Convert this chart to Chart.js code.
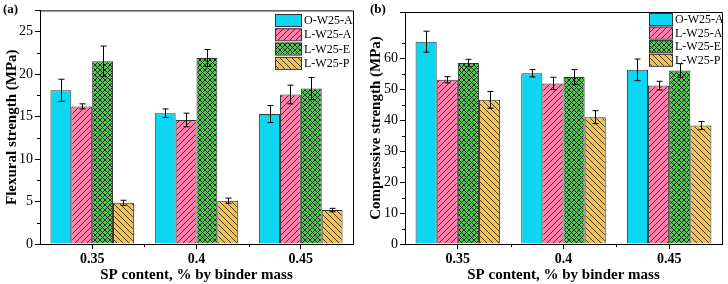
<!DOCTYPE html>
<html lang="en">
<head>
    <meta charset="UTF-8">
    <title>Flexural and compressive strength</title>
    <style>
        body { margin: 0; background: #fff; }
        #wrap { position: relative; width: 728px; height: 284px; }
        canvas { position: absolute; top: 0; }
        #chartA { left: 0; }
        #chartB { left: 364px; }
    </style>
    <script src="https://cdn.jsdelivr.net/npm/chart.js"></script>
</head>
<body>
    <div id="wrap">
        <canvas id="chartA" width="364" height="284"></canvas>
        <canvas id="chartB" width="364" height="284"></canvas>
    </div>
    <script>
        // data
        const categories = ['0.35', '0.4', '0.45'];
        const seriesNames = ['O-W25-A', 'L-W25-A', 'L-W25-E', 'L-W25-P'];

        const flexural = [
            [18.1, 15.4, 15.3],
            [16.2, 14.6, 17.6],
            [21.5, 21.9, 18.3],
            [4.85, 5.1, 4.0]
        ];
        const flexuralErr = [
            [1.3, 0.5, 1.0],
            [0.3, 0.8, 1.1],
            [1.8, 1.0, 1.3],
            [0.3, 0.3, 0.2]
        ];
        const compressive = [
            [65.4, 55.2, 56.3],
            [53.1, 51.9, 51.2],
            [58.5, 54.0, 56.1],
            [46.6, 41.0, 38.3]
        ];
        const compressiveErr = [
            [3.4, 1.2, 3.5],
            [1.0, 2.0, 1.4],
            [1.2, 2.4, 2.2],
            [2.7, 2.1, 1.3]
        ];

        const serif = "'Liberation Serif', 'Times New Roman', serif";

        // fill patterns for each series
        function makePattern(bg, kind) {
            const size = kind === 'cross' ? 5 : 6;
            const c = document.createElement('canvas');
            c.width = c.height = size;
            const g = c.getContext('2d');
            g.fillStyle = bg;
            g.fillRect(0, 0, size, size);
            g.strokeStyle = '#1a1a1a';
            g.lineWidth = kind === 'cross' ? 0.9 : 0.8;
            const fwd = () => {
                for (let k = -size; k <= size; k += size) {
                    g.beginPath(); g.moveTo(k, size); g.lineTo(k + size, 0); g.stroke();
                }
            };
            const back = () => {
                for (let k = -size; k <= size; k += size) {
                    g.beginPath(); g.moveTo(k, 0); g.lineTo(k + size, size); g.stroke();
                }
            };
            if (kind === 'fwd') fwd();
            if (kind === 'back') back();
            if (kind === 'cross') { fwd(); back(); }
            return g.createPattern(c, 'repeat');
        }

        const fills = [
            '#0DD6F0',
            makePattern('#FF80AA', 'fwd'),
            makePattern('#52C852', 'cross'),
            makePattern('#F5C150', 'back')
        ];

        // error bars, minor ticks, frame and legend
        const extras = {
            id: 'extras',
            afterDatasetsDraw(chart, args, opts) {
                const ctx = chart.ctx;
                const y = chart.scales.y;
                const x = chart.scales.x;
                const a = chart.chartArea;
                ctx.save();
                ctx.strokeStyle = '#000';
                ctx.lineWidth = 1;
                // error bars
                chart.data.datasets.forEach((ds, i) => {
                    const meta = chart.getDatasetMeta(i);
                    meta.data.forEach((el, j) => {
                        const v = ds.data[j], e = ds.err[j];
                        const px = Math.round(el.x) + 0.5;
                        const t = y.getPixelForValue(v + e);
                        const b = y.getPixelForValue(v - e);
                        ctx.beginPath();
                        ctx.moveTo(px, t); ctx.lineTo(px, b);
                        ctx.moveTo(px - 3, t); ctx.lineTo(px + 3, t);
                        ctx.moveTo(px - 3, b); ctx.lineTo(px + 3, b);
                        ctx.stroke();
                    });
                });
                // frame on top and right
                ctx.beginPath();
                ctx.moveTo(a.left, a.top + 0.5); ctx.lineTo(a.right + 0.5, a.top + 0.5);
                ctx.lineTo(a.right + 0.5, a.bottom);
                ctx.stroke();
                // minor y ticks
                for (let v = opts.minor; v < y.max; v += opts.minor * 2) {
                    const py = Math.round(y.getPixelForValue(v)) + 0.5;
                    ctx.beginPath(); ctx.moveTo(a.left - 3, py); ctx.lineTo(a.left, py); ctx.stroke();
                }
                // minor x ticks between groups
                for (let k = 1; k < categories.length; k++) {
                    const px = Math.round((x.getPixelForValue(k - 1) + x.getPixelForValue(k)) / 2) + 0.5;
                    ctx.beginPath(); ctx.moveTo(px, a.bottom); ctx.lineTo(px, a.bottom + 3); ctx.stroke();
                }
                // legend inside the plot
                ctx.font = '12px ' + serif;
                ctx.textBaseline = 'middle';
                ctx.fillStyle = '#000';
                chart.data.datasets.forEach((ds, i) => {
                    const lx = opts.legendX, ly = opts.legendY + i * opts.legendRow;
                    ctx.fillStyle = ds.backgroundColor;
                    ctx.fillRect(lx, ly, opts.swatchW, 12);
                    ctx.strokeStyle = '#333';
                    ctx.strokeRect(lx + 0.5, ly + 0.5, opts.swatchW, 12);
                    ctx.fillStyle = '#000';
                    ctx.fillText(ds.label, lx + opts.swatchW + 3, ly + 7);
                });
                // panel label
                ctx.font = 'bold 13px ' + serif;
                ctx.textBaseline = 'top';
                ctx.fillText(opts.tag, opts.tagX, 3);
                ctx.restore();
            }
        };

        function makeChart(id, values, errs, cfg) {
            const datasets = seriesNames.map((name, i) => ({
                label: name,
                data: values[i],
                err: errs[i],
                backgroundColor: fills[i],
                borderColor: '#333',
                borderWidth: 1,
                borderSkipped: 'bottom',
                categoryPercentage: 0.8,
                barPercentage: 1.0
            }));
            return new Chart(document.getElementById(id).getContext('2d'), {
                type: 'bar',
                data: { labels: categories, datasets: datasets },
                plugins: [extras],
                options: {
                    responsive: false,
                    animation: false,
                    layout: { padding: cfg.padding },
                    scales: {
                        x: {
                            afterFit: s => { s.height = cfg.xHeight; },
                            grid: { display: true, drawOnChartArea: false, offset: false, tickLength: 5, color: '#000' },
                            border: { color: '#000', width: 1 },
                            ticks: { color: '#000', font: { family: serif, size: 14, weight: 'bold' }, padding: 2 },
                            title: { display: true, text: 'SP content, % by binder mass', color: '#000', padding: { top: 0, bottom: 0 },
                                     font: { family: serif, size: 15, weight: 'bold' } }
                        },
                        y: {
                            min: 0,
                            max: cfg.max,
                            afterFit: s => { s.width = cfg.yWidth; },
                            grid: { display: true, drawOnChartArea: false, tickLength: 5, color: '#000' },
                            border: { color: '#000', width: 1 },
                            ticks: { stepSize: cfg.step, color: '#000', font: { family: serif, size: 14 }, padding: 2,
                                     callback: v => (v % cfg.step === 0 ? v : '') },
                            title: { display: true, text: cfg.title, color: '#000', padding: { top: 3, bottom: 0 },
                                     font: { family: serif, size: 15, weight: 'bold' } }
                        }
                    },
                    plugins: {
                        legend: { display: false },
                        tooltip: { enabled: false },
                        extras: cfg.extras
                    }
                }
            });
        }

        makeChart('chartA', flexural, flexuralErr, {
            padding: { top: 10, right: 11, left: 0, bottom: 0 },
            xHeight: 40, yWidth: 40, max: 27.5, step: 5,
            title: 'Flexural strength (MPa)',
            extras: { minor: 2.5, legendX: 275, legendY: 14, legendRow: 14.3, swatchW: 26, tag: '(a)', tagX: 3 }
        });

        makeChart('chartB', compressive, compressiveErr, {
            padding: { top: 12, right: 6, left: 0, bottom: 0 },
            xHeight: 40, yWidth: 41, max: 75, step: 10,
            title: 'Compressive strength (MPa)',
            extras: { minor: 5, legendX: 285, legendY: 13, legendRow: 13.6, swatchW: 23, tag: '(b)', tagX: 6 }
        });
    </script>
</body>
</html>
